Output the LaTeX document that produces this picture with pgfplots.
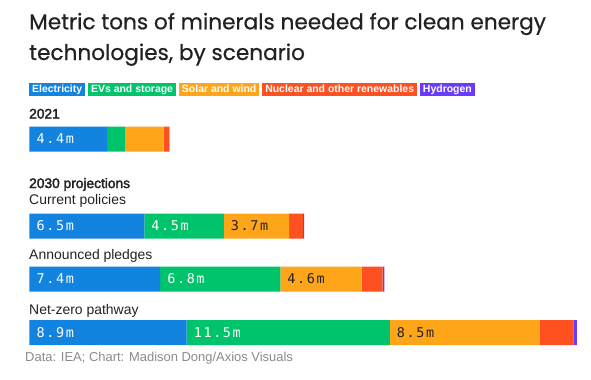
\documentclass[border=0pt]{standalone}
\usepackage{fontspec}
\setmainfont{Liberation Sans}
\newfontfamily\titlefont[FakeBold=0.6]{Poppins}
\newfontfamily\barfont[LetterSpace=12]{DejaVu Sans Mono}
\newfontfamily\semib[FakeBold=2.5]{Liberation Sans}
\usepackage{pgfplots}
\pgfplotsset{compat=1.18}
\definecolor{cElec}{HTML}{1283DF}
\definecolor{cEV}{HTML}{00C46C}
\definecolor{cSolar}{HTML}{FFA51A}
\definecolor{cNuc}{HTML}{FF5022}
\definecolor{cHyd}{HTML}{6A3BFF}
\definecolor{ctext}{HTML}{222222}
\definecolor{csrc}{HTML}{8A8A8A}
\tikzset{bl/.style={anchor=west, inner sep=0pt, xshift=7bp, font=\barfont\fontsize{13.5}{13.5}\selectfont}}
\begin{document}
\begin{tikzpicture}
\path[use as bounding box] (0,0) rectangle (591bp,-380bp);
\begin{axis}[at={(0,0)}, anchor=north west, scale only axis,
  width=591bp, height=380bp,
  xmin=-1.670, xmax=31.795, ymin=0, ymax=380, y dir=reverse,
  hide axis, xbar stacked, bar width=25,
  clip=false]
\addplot[fill=cElec, draw=none] coordinates {(4.4,139) (6.5,226) (7.4,279) (8.9,332.5)};
\addplot[fill=cEV, draw=none] coordinates {(1.0,139) (4.5,226) (6.8,279) (11.5,332.5)};
\addplot[fill=cSolar, draw=none] coordinates {(2.2,139) (3.7,226) (4.6,279) (8.5,332.5)};
\addplot[fill=cNuc, draw=none] coordinates {(0.3,139) (0.8,226) (1.2,279) (1.9,332.5)};
\addplot[fill=cHyd, draw=none] coordinates {(0.02,139) (0.05,226) (0.1,279) (0.2,332.5)};
\coordinate (a1) at (axis cs:0,139);
\coordinate (b1) at (axis cs:0,226);
\coordinate (b2) at (axis cs:6.5,226);
\coordinate (b3) at (axis cs:11.0,226);
\coordinate (c1) at (axis cs:0,279);
\coordinate (c2) at (axis cs:7.4,279);
\coordinate (c3) at (axis cs:14.2,279);
\coordinate (d1) at (axis cs:0,332.5);
\coordinate (d2) at (axis cs:8.9,332.5);
\coordinate (d3) at (axis cs:20.4,332.5);
\end{axis}
\node[bl, text=white] at (a1) {4.4m};
\node[bl, text=white] at (b1) {6.5m};
\node[bl, text=white] at (b2) {4.5m};
\node[bl, text=ctext] at (b3) {3.7m};
\node[bl, text=white] at (c1) {7.4m};
\node[bl, text=white] at (c2) {6.8m};
\node[bl, text=ctext] at (c3) {4.6m};
\node[bl, text=white] at (d1) {8.9m};
\node[bl, text=white] at (d2) {11.5m};
\node[bl, text=ctext] at (d3) {8.5m};
% title
\node[anchor=base west, inner sep=0pt, text=ctext, font=\titlefont\fontsize{21.7}{24}\selectfont] at (29bp,-29.3bp) {Metric tons of minerals needed for clean energy};
\node[anchor=base west, inner sep=0pt, text=ctext, font=\titlefont\fontsize{21.7}{24}\selectfont] at (29bp,-60bp) {technologies, by scenario};
% legend
\tikzset{leg/.style={anchor=west, inner xsep=3bp, inner ysep=0pt, minimum height=13bp, text height=7.6bp, text depth=2bp, text=white, font=\bfseries\fontsize{10.5}{12}\selectfont}}
\node[leg, fill=cElec] (l1) at (29bp,-89.5bp) {Electricity};
\node[leg, fill=cEV] (l2) at ([xshift=2.5bp]l1.east) {EVs and storage};
\node[leg, fill=cSolar] (l3) at ([xshift=2.5bp]l2.east) {Solar and wind};
\node[leg, fill=cNuc] (l4) at ([xshift=2.5bp]l3.east) {Nuclear and other renewables};
\node[leg, fill=cHyd] (l5) at ([xshift=2.5bp]l4.east) {Hydrogen};
% group labels
\tikzset{gl/.style={anchor=base west, inner sep=0pt, text=ctext, font=\fontsize{14}{16}\selectfont}}
\node[gl, font=\semib\fontsize{13.8}{16}\selectfont] at (29bp,-118.5bp) {2021};
\node[gl, font=\semib\fontsize{13.8}{16}\selectfont] at (29bp,-188bp) {2030 projections};
\node[gl] at (29bp,-204bp) {Current policies};
\node[gl] at (29bp,-259.5bp) {Announced pledges};
\node[gl] at (29bp,-314.5bp) {Net-zero pathway};
% source
\node[anchor=base west, inner sep=0pt, text=csrc, font=\fontsize{13}{14}\selectfont] at (25bp,-361bp) {Data: IEA; Chart: Madison Dong/Axios Visuals};
\end{tikzpicture}
\end{document}
